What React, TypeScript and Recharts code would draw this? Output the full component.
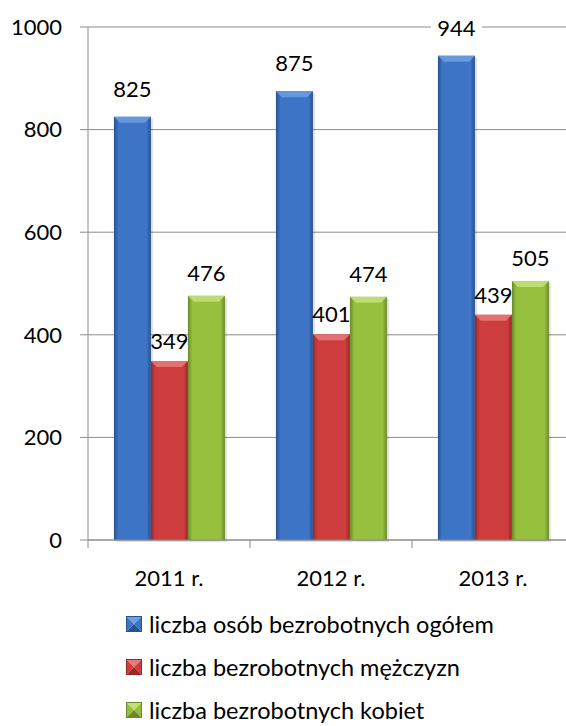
import { BarChart, Bar, XAxis, YAxis, CartesianGrid, Legend, LabelList } from 'recharts';

const years = ['2011 r.', '2012 r.', '2013 r.'];
const totalUnemployed = [825, 875, 944];
const unemployedMen = [349, 401, 439];
const unemployedWomen = [476, 474, 505];
const yTicks = [0, 200, 400, 600, 800, 1000];

const data = years.map((year, i) => ({
  year,
  total: totalUnemployed[i],
  men: unemployedMen[i],
  women: unemployedWomen[i],
}));

const SERIES = [
  { key: 'total', name: 'liczba osób bezrobotnych ogółem', base: '#3d74c6', light: '#6d9fe2', dark: '#27528f', labelOffset: 16 },
  { key: 'men', name: 'liczba bezrobotnych mężczyzn', base: '#cd3d3d', light: '#e87a7a', dark: '#962828', labelOffset: 8 },
  { key: 'women', name: 'liczba bezrobotnych kobiet', base: '#97c03f', light: '#c3e07a', dark: '#6a8a26', labelOffset: 11 },
];

const GRID = '#8c8c8c';
const FONT = 'Lato, "Open Sans", sans-serif';

function BevelBar(props: any) {
  const { x, y, width, height, gradId, light } = props;
  if (!height || height <= 0) return null;
  const b = Math.min(6, height / 2);
  return (
    <g>
      <rect x={x + 2} y={y + 2} width={width} height={height} fill="rgba(0,0,0,0.12)" />
      <rect x={x} y={y} width={width} height={height} fill={`url(#${gradId})`} />
      <polygon
        points={`${x},${y} ${x + width},${y} ${x + width - b},${y + b} ${x + b},${y + b}`}
        fill={light}
        opacity={0.85}
      />
    </g>
  );
}

// value label above a bar; gets a white backing only where a gridline runs through it
function ValueLabel(props: any) {
  const vb = props.viewBox || props;
  const { x, y, width, height } = vb;
  const { value, labelOffset } = props;
  const cx = x + width / 2;
  const baseline = y - labelOffset - 4;
  const center = baseline - 8;
  const k = height / value;
  const bottom = y + height;
  const hitsGrid = yTicks.some((t) => Math.abs(bottom - t * k - center) < 4);
  const w = String(value).length * 13 + 12;
  return (
    <g>
      {hitsGrid && <rect x={cx - w / 2} y={center - 12} width={w} height={24} fill="#fff" />}
      <text x={cx} y={baseline} textAnchor="middle" fontSize={22} fill="#000" fontFamily={FONT}>
        {value}
      </text>
    </g>
  );
}

function CategoryTick(props: any) {
  const { x, y, payload, index } = props;
  const half = payload && payload.offset ? payload.offset : 81;
  return (
    <g>
      {index === 0 && <line x1={x - half} x2={x - half} y1={y} y2={y + 8} stroke={GRID} />}
      <line x1={x + half} x2={x + half} y1={y} y2={y + 8} stroke={GRID} />
      <text x={x} y={y + 46} textAnchor="middle" fontSize={22} fill="#000" fontFamily={FONT}>
        {payload.value}
      </text>
    </g>
  );
}

function LegendBox({ s }: { s: (typeof SERIES)[number] }) {
  const n = 16;
  const c = n / 2;
  return (
    <svg width={n} height={n} style={{ marginRight: 7, flex: 'none' }}>
      <polygon points={`0,0 ${n},0 ${c},${c}`} fill={s.light} />
      <polygon points={`0,0 0,${n} ${c},${c}`} fill={s.base} />
      <polygon points={`${n},0 ${n},${n} ${c},${c}`} fill={s.base} />
      <polygon points={`0,${n} ${n},${n} ${c},${c}`} fill={s.dark} />
      <rect x={0.5} y={0.5} width={n - 1} height={n - 1} fill="none" stroke={s.dark} strokeWidth={1} />
    </svg>
  );
}

function LegendContent() {
  return (
    <div style={{ fontFamily: FONT, fontSize: 23.5, color: '#000', whiteSpace: 'nowrap' }}>
      {SERIES.map((s) => (
        <div key={s.key} style={{ display: 'flex', alignItems: 'center', height: 43 }}>
          <LegendBox s={s} />
          <span>{s.name}</span>
        </div>
      ))}
    </div>
  );
}

export default function App() {
  return (
    <div
      style={{
        position: 'absolute',
        left: 0,
        top: 0,
        width: 566,
        height: 726,
        overflow: 'hidden',
        background: '#fff',
        fontFamily: FONT,
      }}
    >
      <BarChart
        width={580}
        height={726}
        data={data}
        margin={{ top: 27, right: 6, left: 0, bottom: 146 }}
        barCategoryGap="16%"
        barGap={0}
      >
        <defs>
          {SERIES.map((s) => (
            <linearGradient key={s.key} id={`grad-${s.key}`} x1="0" y1="0" x2="1" y2="0">
              <stop offset="0%" stopColor={s.dark} />
              <stop offset="12%" stopColor={s.base} />
              <stop offset="88%" stopColor={s.base} />
              <stop offset="100%" stopColor={s.dark} />
            </linearGradient>
          ))}
        </defs>
        <CartesianGrid horizontal vertical={false} stroke={GRID} strokeWidth={1} />
        <XAxis
          dataKey="year"
          height={40}
          axisLine={{ stroke: GRID }}
          tickLine={false}
          tickSize={0}
          tickMargin={0}
          tick={<CategoryTick />}
          interval={0}
        />
        <YAxis
          width={88}
          domain={[0, 1000]}
          ticks={yTicks}
          axisLine={{ stroke: GRID }}
          tickLine={{ stroke: GRID }}
          tickSize={8}
          tickMargin={18}
          tick={{ fontSize: 22, fill: '#000', fontFamily: FONT }}
        />
        <Legend
          layout="vertical"
          align="center"
          verticalAlign="middle"
          wrapperStyle={{ left: 126, top: 602, width: 440 }}
          content={<LegendContent />}
        />
        {SERIES.map((s) => (
          <Bar
            key={s.key}
            dataKey={s.key}
            name={s.name}
            fill={s.base}
            isAnimationActive={false}
            shape={(p: any) => <BevelBar {...p} gradId={`grad-${s.key}`} light={s.light} />}
          >
            <LabelList dataKey={s.key} content={(p: any) => <ValueLabel {...p} labelOffset={s.labelOffset} />} />
          </Bar>
        ))}
      </BarChart>
    </div>
  );
}
